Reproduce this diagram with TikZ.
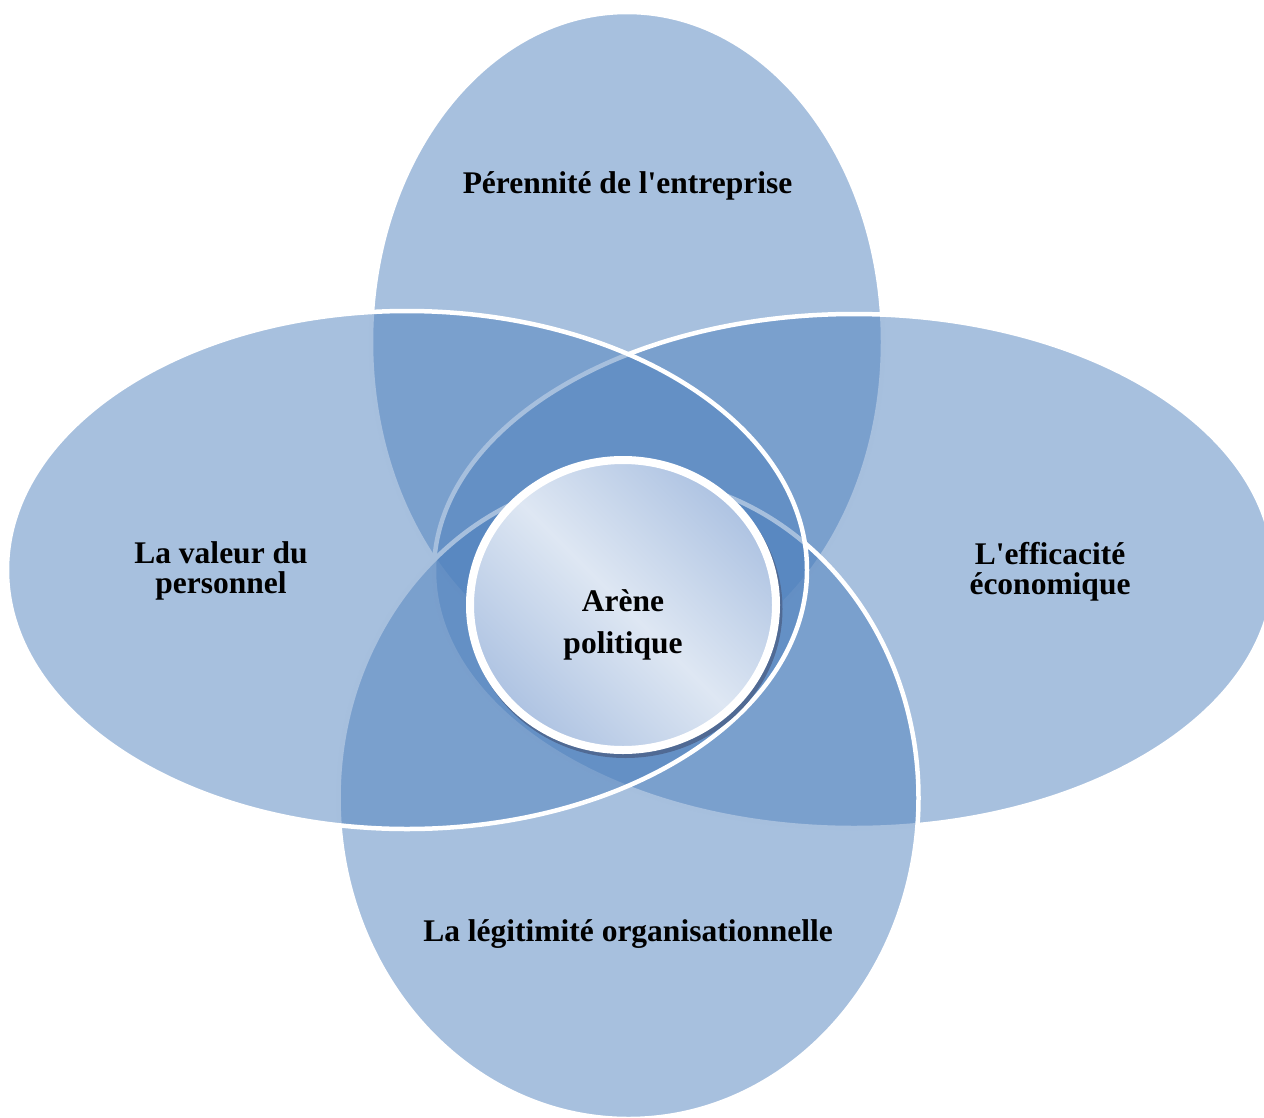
\documentclass[tikz,border=0pt]{standalone}
\usepackage{fontspec}
\setmainfont{Liberation Serif}[Ligatures=TeXOff]

\definecolor{vennblue}{RGB}{79,129,189}
\definecolor{hublight}{RGB}{222,231,243}
\definecolor{hubdark}{RGB}{174,195,226}
\definecolor{hubshadow}{RGB}{80,106,148}

\begin{document}
\begin{tikzpicture}[x=1pt, y=-1pt,
  petal/.style={fill=vennblue, fill opacity=0.5, draw=white, line width=4.5pt},
  lbl/.style={font=\fontsize{31.5}{30}\selectfont\bfseries, align=center, text=black}]

\useasboundingbox (0,0) rectangle (1264,1117);
\clip (0,0) rectangle (1264,1117);

\filldraw[petal] (627,342) ellipse [x radius=256, y radius=330];
\filldraw[petal] (854,571) ellipse [x radius=420, y radius=257];
\filldraw[petal] (628.5,798) ellipse [x radius=290, y radius=321];
\filldraw[petal] (407,570) ellipse [x radius=400, y radius=259];

\fill[hubshadow] (625.5,609) ellipse [x radius=157, y radius=149];
\draw[white, line width=8pt, top color=hubdark, bottom color=hubdark, middle color=hublight, shading angle=-45]
  (623,605) ellipse [x radius=153, y radius=145];

\node[lbl] (perennite) at (627.5,185.5) {Pérennité de l'entreprise};
\node[lbl] (valeur) at (221,571) {La valeur du\\personnel};
\node[lbl] (efficacite) at (1050,572) {L'efficacité\\économique};
\node[lbl] (legitimite) at (628,934.5) {La légitimité organisationnelle};
\node[lbl, font=\fontsize{31.5}{42}\selectfont\bfseries] (arene) at (623,624.5) {Arène\\politique};

\end{tikzpicture}
\end{document}
